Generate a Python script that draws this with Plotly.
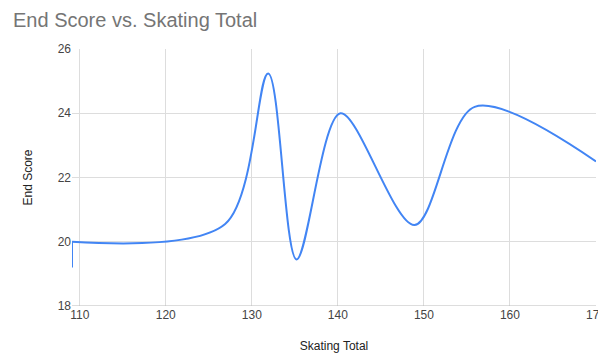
import plotly.graph_objects as go

skating_total = [109.1, 109.1, 126.9, 131.9, 135.2, 140.3, 148.9, 155.9, 170.0]
end_score = [19.2, 20.0, 20.55, 25.24, 19.45, 24.0, 20.52, 24.2, 22.5]

x_ticks = [110, 120, 130, 140, 150, 160, 170]
y_ticks = [18, 20, 22, 24, 26]

# the page body has an 8px margin, so the figure is shifted by 8px
OFF = 8
W, H = 606, 358 - OFF

fig = go.Figure()
fig.add_trace(go.Scatter(
    x=skating_total[:2], y=end_score[:2], mode="lines",
    line=dict(color="#4285F4", width=2),
    hoverinfo="skip", showlegend=False, cliponaxis=False,
))
fig.add_trace(go.Scatter(
    x=skating_total[1:], y=end_score[1:], mode="lines",
    line=dict(color="#4285F4", width=2, shape="spline", smoothing=0.9),
    hoverinfo="skip", showlegend=False, cliponaxis=False,
))

font_family = "Arial, Liberation Sans, sans-serif"
fig.update_layout(
    width=W, height=H,
    margin=dict(l=72 - OFF, r=10 + OFF, t=49 - OFF, b=52, autoexpand=False),
    paper_bgcolor="white", plot_bgcolor="white",
    font=dict(family=font_family, color="#444444", size=12),
    title=dict(text="End Score vs. Skating Total", x=(13 - OFF) / W, xanchor="left",
               y=1 - (20 - OFF) / H, yanchor="middle", xref="container", yref="container",
               pad=dict(l=0, r=0, t=0, b=0),
               font=dict(size=20, color="#757575", family=font_family)),
    xaxis=dict(range=[109.1, 170], tickvals=x_ticks, ticktext=[str(v) for v in x_ticks],
               showgrid=True, gridcolor="#dddddd", gridwidth=1, zeroline=False,
               showline=False, ticks="", tickfont=dict(size=12, color="#444444"),
               automargin=False, ticklabeloverflow="allow",
               title=dict(text="Skating Total", font=dict(size=12, color="#222222"), standoff=20)),
    yaxis=dict(range=[18, 26], tickvals=y_ticks, ticktext=[str(v) for v in y_ticks],
               showgrid=True, gridcolor="#dddddd", gridwidth=1, zeroline=False,
               showline=False, ticks="", tickfont=dict(size=12, color="#444444"),
               automargin=False,
               title=dict(text="End Score", font=dict(size=12, color="#222222"), standoff=22)),
)
fig.add_shape(type="line", xref="paper", yref="y", x0=0, x1=1, y0=18, y1=18,
              line=dict(color="#bbbbbb", width=1))
fig.write_html("out.html")
